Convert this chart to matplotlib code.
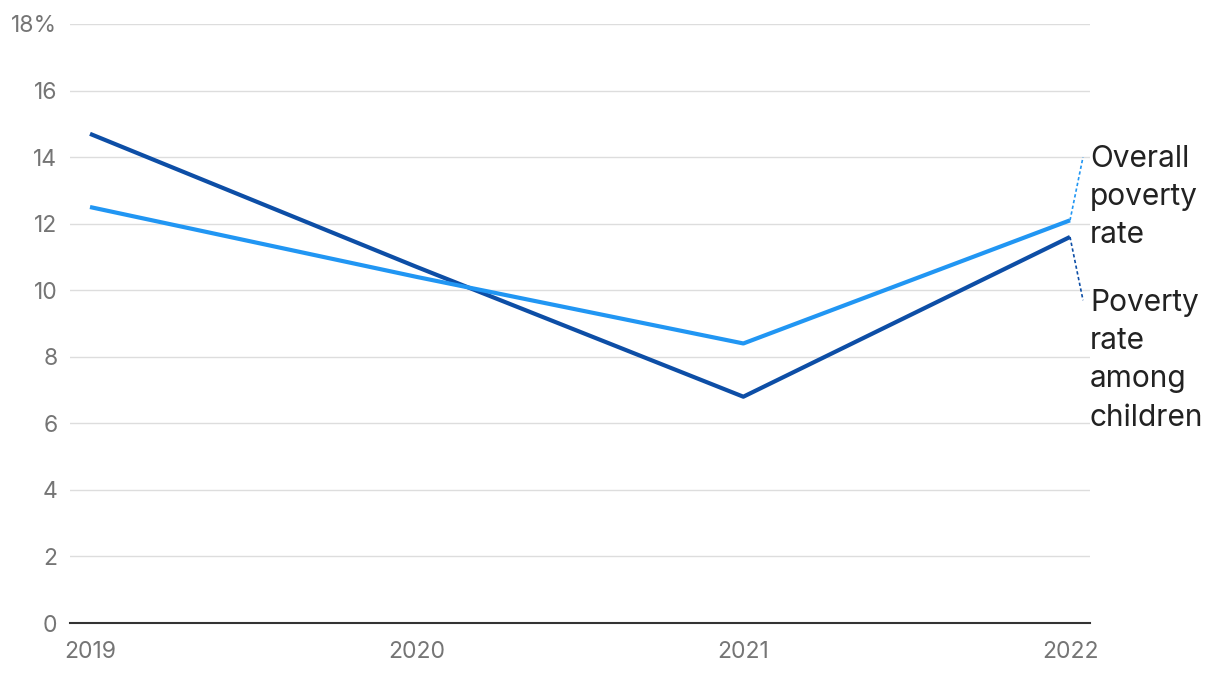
import matplotlib
matplotlib.use("Agg")
import matplotlib.pyplot as plt

# datos
years = [2019, 2020, 2021, 2022]
overall = [12.5, 10.4, 8.4, 12.1]
children = [14.7, 10.7, 6.8, 11.6]
yticks = [0, 2, 4, 6, 8, 10, 12, 14, 16, 18]
ylabels = ["0", "2", "4", "6", "8", "10", "12", "14", "16", "18%"]

light = "#2196f3"
dark = "#0d4ea6"

plt.rcParams["font.family"] = ["Inter", "DejaVu Sans"]

fig = plt.figure(figsize=(12.2, 6.74), dpi=100)
ax = fig.add_axes([70 / 1220, 1 - 623 / 674, 1020 / 1220, 599 / 674])

ax.plot(years, children, color=dark, lw=3, solid_capstyle="butt", zorder=3)
ax.plot(years, overall, color=light, lw=3, solid_capstyle="butt", zorder=3)

ax.set_xlim(2019 - 20 / 326.7, 2022 + 20 / 326.7)
ax.set_ylim(0, 18)
ax.set_yticks(yticks)
ax.set_yticklabels(ylabels)
ax.set_xticks(years)
ax.set_xticklabels([str(y) for y in years])
ax.tick_params(axis="both", length=0, labelsize=16.5, colors="#757575")
ax.tick_params(axis="y", pad=9)
ax.tick_params(axis="x", pad=13)
ax.grid(axis="y", color="#dddddd", lw=1)
ax.set_axisbelow(True)
for s in ["top", "right", "left"]:
    ax.spines[s].set_visible(False)
ax.spines["bottom"].set_color("#333333")
ax.spines["bottom"].set_linewidth(1.5)

# etiquetas al final de las lineas
xe = 2022 + 13 / 326.7
ax.plot([2022, xe], [overall[-1], 14.0], color=light, lw=1.2, ls=(0, (2, 1.5)), clip_on=False)
ax.plot([2022, xe], [children[-1], 9.7], color=dark, lw=1.2, ls=(0, (2, 1.5)), clip_on=False)
xt = 2022 + 20 / 326.7
ax.text(xt, 12.8, "Overall\npoverty\nrate", fontsize=21.5, color="#222222",
        va="center", ha="left", linespacing=1.47, clip_on=False)
ax.text(xt, 7.9, "Poverty\nrate\namong\nchildren", fontsize=21.5, color="#222222",
        va="center", ha="left", linespacing=1.47, clip_on=False)

fig.savefig("out.png", dpi=100)
